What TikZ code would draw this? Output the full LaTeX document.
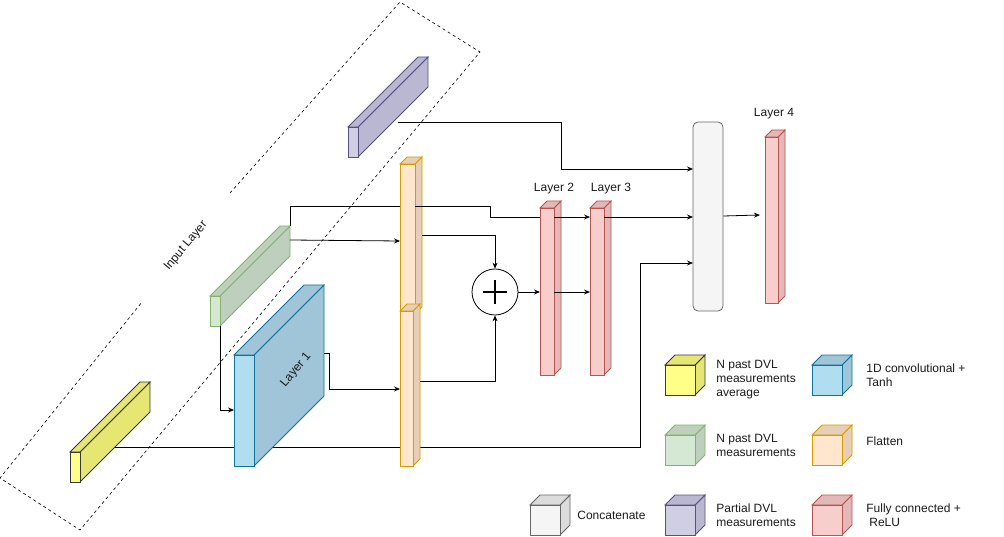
\documentclass[tikz,border=0pt]{standalone}
\usepackage{fontspec}
\setmainfont{Liberation Sans}
\usetikzlibrary{arrows.meta}
\newcommand{\cub}[8]{%
 \filldraw[draw=#8,fill=#7] (#1+#3,#2)--(#1+#3+#5,#2-#5)--(#1+#3+#5,#2+#4-#5)--(#1+#3,#2+#4)--cycle;
 \filldraw[draw=#8,fill=#7] (#1,#2)--(#1+#5,#2-#5)--(#1+#3+#5,#2-#5)--(#1+#3,#2)--cycle;
 \filldraw[draw=#8,fill=#6] (#1,#2) rectangle (#1+#3,#2+#4);}
\definecolor{yF}{HTML}{FFFF88}\definecolor{yS}{HTML}{E6E673}\definecolor{yD}{HTML}{36393D}
\definecolor{gF}{HTML}{D5E8D4}\definecolor{gS}{HTML}{BFCFBE}\definecolor{gD}{HTML}{82B366}
\definecolor{pF}{HTML}{D0CEE2}\definecolor{pS}{HTML}{BAB7D2}\definecolor{pD}{HTML}{56517E}
\definecolor{bF}{HTML}{B1DDF0}\definecolor{bS}{HTML}{A0C4D8}\definecolor{bD}{HTML}{10739E}
\definecolor{oF}{HTML}{FFE6CC}\definecolor{oS}{HTML}{E6CFB6}\definecolor{oD}{HTML}{D79B00}
\definecolor{rF}{HTML}{F8CECC}\definecolor{rS}{HTML}{E2B9B8}\definecolor{rD}{HTML}{B85450}
\definecolor{cF}{HTML}{F5F5F5}\definecolor{cD}{HTML}{666666}
\definecolor{tx}{HTML}{1A1A1A}
\tikzset{con/.style={draw,line width=0.8pt,-{Stealth[length=6pt,width=5pt]}},
 lin/.style={draw,line width=0.8pt},
 lbl/.style={font=\fontsize{12}{14}\selectfont,inner sep=0pt,text=tx},
 leg/.style={font=\fontsize{12}{14}\selectfont,inner sep=0pt,align=left,anchor=west,text=tx}}
\begin{document}
\begin{tikzpicture}[x=1pt,y=-1pt,line width=0.8pt]
\useasboundingbox (0,0) rectangle (1004,537);
\draw[dashed,line width=0.6pt] (230,193)--(400,2)--(480,52)--(80,530)--(0,478)--(142,302);
\node[lbl,rotate=50] (inl) at (186,246) {Input Layer};
\cub{70}{452}{10}{30}{70}{yF}{yS}{yD}
\cub{210}{296}{10}{30}{70}{gF}{gS}{gD}
\cub{348}{127}{10}{30}{70}{pF}{pS}{pD}
\coordinate (gtop) at (290,226);
\draw[lin] (gtop)--(290,206)--(490,206)--(490,217);
\draw[lin] (115,447)--(640,447)--(640,263);
\cub{234}{355}{20}{111}{70}{bF}{bS}{bD}
\node[lbl,rotate=50] (l1) at (296,370) {Layer 1};
\cub{400}{164}{15}{150}{7}{oF}{oS}{oD}
\cub{400}{311}{13}{155}{7}{oF}{oS}{oD}
\draw[lin] (415,206)--(490,206)--(490,217)--(540,217);
\draw[lin] (422,447)--(640,447);
\cub{540}{208}{14}{167}{7}{rF}{rS}{rD}
\cub{590}{208}{14}{167}{7}{rF}{rS}{rD}
\cub{765}{137}{13}{166}{7}{rF}{rS}{rD}
\node[draw=cD,fill=cF,rounded corners=5pt,minimum width=30pt,minimum height=189pt,inner sep=0pt] (cat) at (708,216.5) {};
\node[draw,circle,minimum size=46pt,inner sep=0pt] (plus) at (495,292) {};
\draw[line width=2.6pt] (483,292)--(507,292) (495,280)--(495,304);
\draw[con] (398,122)--(561,122)--(561,169)--(693,169);
\draw[con] (554,217)--(590,217);
\draw[con] (604,217)--(693,217);
\draw[con] (640,263)--(693,263);
\draw[con] (290,240)--(400,241);
\draw[con] (220,326)--(220,410)--(234,410);
\draw[con] (324,353)--(329,353)--(329,389)--(400,389);
\draw[con] (422,235)--(495,235)--(plus.north);
\draw[con] (420,381)--(495,381)--(plus.south);
\draw[con] (plus.east)--(540,292);
\draw[con] (554,292)--(590,292);
\draw[con] (cat.east |- 0,216)--(760,215);
\node[lbl] (t2) at (554,189) {Layer 2};
\node[lbl] (t3) at (611,189) {Layer 3};
\node[lbl] (t4) at (774,114) {Layer 4};
\cub{665}{365}{30}{30}{10}{yF}{yS}{yD}
\node[leg] (ly) at (716,380) {N past DVL\\measurements\\average};
\cub{812}{365}{30}{30}{10}{bF}{bS}{bD}
\node[leg] (lb) at (866,375) {1D convolutional +\\Tanh};
\cub{665}{435}{30}{30}{10}{gF}{gS}{gD}
\node[leg] (lg) at (716,445) {N past DVL\\measurements};
\cub{812}{435}{30}{30}{10}{oF}{oS}{oD}
\node[leg] (lo) at (866,441) {Flatten};
\cub{530}{505}{30}{30}{10}{cF}{cF!90!black}{cD}
\node[leg] (lc) at (577,515) {Concatenate};
\cub{665}{505}{30}{30}{10}{pF}{pS}{pD}
\node[leg] (lp) at (716,515) {Partial DVL\\measurements};
\cub{812}{505}{30}{30}{10}{rF}{rS}{rD}
\node[leg] (lr) at (866,515) {Fully connected +\\\hspace*{3pt}ReLU};
\end{tikzpicture}
\end{document}
